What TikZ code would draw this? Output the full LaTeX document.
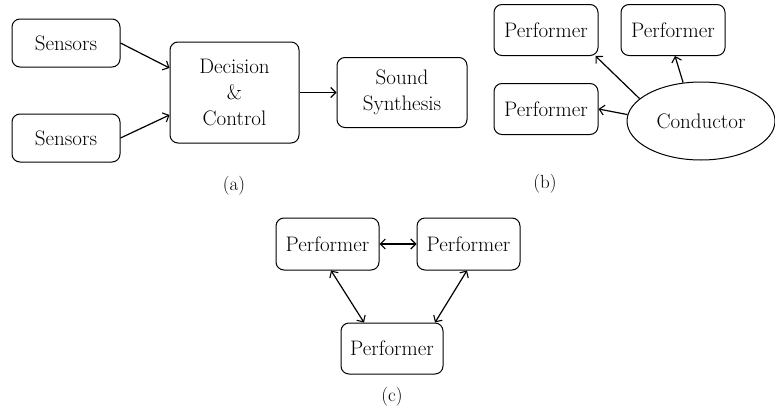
\documentclass[tikz,border=0pt]{standalone}
\usetikzlibrary{arrows.meta,shapes.geometric}
\begin{document}
\begin{tikzpicture}[x=1pt,y=-1pt,
  box/.style={draw,line width=1pt,rounded corners=8pt,align=center,font=\fontsize{21}{26}\selectfont,inner sep=0pt},
  ell/.style={draw,line width=1pt,ellipse,inner sep=0pt,font=\fontsize{21}{26}\selectfont},
  arr/.style={line width=1.2pt,-{Straight Barb[length=5pt,width=10pt,line width=1.1pt]}},
  darr/.style={line width=1.2pt,{Straight Barb[length=5pt,width=10pt,line width=1.1pt]}-{Straight Barb[length=5pt,width=10pt,line width=1.1pt]}},
  sublabel/.style={font=\fontsize{19}{22}\selectfont}]
\useasboundingbox (0,0) rectangle (775,415);
% (a)
\node[box,minimum width=108pt,minimum height=48pt] (s1) at (66,43) {Sensors};
\node[box,minimum width=108pt,minimum height=48pt] (s2) at (66,138) {Sensors};
\node[box,minimum width=129pt,minimum height=101pt] (dec) at (234.5,92.5) {Decision\\\&\\Control};
\node[box,minimum width=130pt,minimum height=70pt] (snd) at (402,92.5) {Sound\\Synthesis};
\draw[arr] (s1.east) -- ([yshift=24.5pt]dec.west);
\draw[arr] (s2.east) -- ([yshift=-22.5pt]dec.west);
\draw[arr] (dec.east) -- (snd.west);
\node[sublabel] (la) at (234,186) {(a)};
% (b)
\node[box,minimum width=104pt,minimum height=51pt] (p1) at (546,30) {Performer};
\node[box,minimum width=104pt,minimum height=51pt] (p2) at (673,30) {Performer};
\node[box,minimum width=104pt,minimum height=51pt] (p3) at (546,109) {Performer};
\node[ell,minimum width=148pt,minimum height=78pt] (cond) at (701,121) {Conductor};
\draw[arr] (cond.160) -- ([xshift=-3pt]p1.south east);
\draw[arr] (cond.115) -- ([xshift=2pt]p2.south);
\draw[arr] (cond.175) -- (p3.east);
\node[sublabel] (lb) at (545,184) {(b)};
% (c)
\node[box,minimum width=103pt,minimum height=52pt] (c1) at (327.5,244) {Performer};
\node[box,minimum width=103pt,minimum height=52pt] (c2) at (468.5,244) {Performer};
\node[box,minimum width=102pt,minimum height=51pt] (c3) at (392,348.5) {Performer};
\draw[darr] (c1.east) -- (c2.west);
\draw[darr] ([xshift=3.5pt]c1.south) -- ([xshift=-28pt]c3.north);
\draw[darr] ([xshift=-1.5pt]c2.south) -- ([xshift=43pt]c3.north);
\node[sublabel] (lc) at (392,397) {(c)};
\end{tikzpicture}
\end{document}
